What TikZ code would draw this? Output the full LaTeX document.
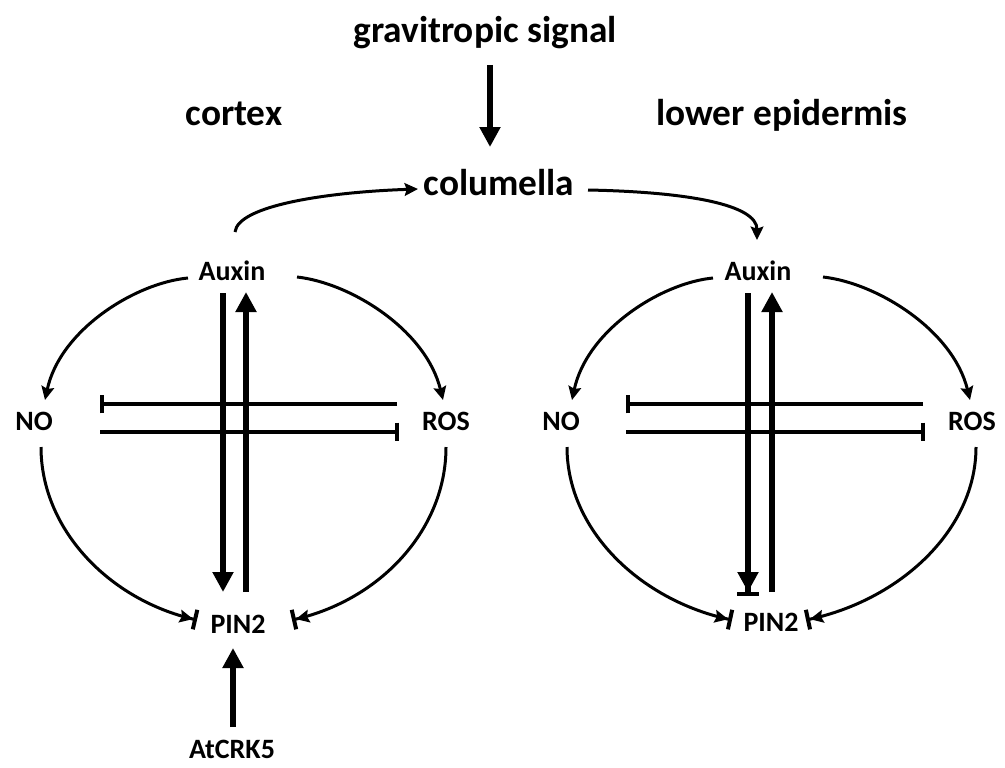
\documentclass[tikz,border=0pt]{standalone}
\usepackage{fontspec}
\setmainfont{Carlito}
\usetikzlibrary{arrows.meta}
\begin{document}
\begin{tikzpicture}[x=0.75pt,y=-0.75pt,
  big/.style={font=\fontsize{28}{32}\selectfont\bfseries, inner sep=0pt, anchor=base},
  lab/.style={font=\fontsize{21}{24}\selectfont\bfseries, inner sep=0pt, anchor=base},
  thinarr/.style={line width=2.25pt, -{Stealth[length=10pt,width=9.5pt,inset=1.5pt]}},
  thinbar/.style={line width=2.25pt, -{Stealth[length=10pt,width=9.5pt,inset=1.5pt,sep=0pt]Bar[width=15pt,line width=3pt]}},
  thickarr/.style={line width=4.5pt, -{Triangle[length=15pt,width=15pt]}},
  thickbar/.style={line width=4.5pt, -{Triangle[length=15pt,width=15pt,sep=0pt]Bar[width=16pt,line width=3pt]}},
  thickline/.style={line width=4.5pt},
  crossbar/.style={line width=3pt, -{Bar[width=14pt,line width=3pt]}}
]
\path[use as bounding box, fill=white] (0,0) rectangle (1005,767);

% titles
\node[big] (grav) at (485,43) {gravitropic signal};
\node[big] (cortex) at (234,125) {cortex};
\node[big] (lower) at (782,125) {lower epidermis};
\node[big] (col) at (499,195) {columella};

% labels
\node[lab] (auxL) at (232,280) {Auxin};
\node[lab] (auxR) at (758,280) {Auxin};
\node[lab] (noL) at (34,430) {NO};
\node[lab] (rosL) at (446,430) {ROS};
\node[lab] (noR) at (561,430) {NO};
\node[lab] (rosR) at (972,430) {ROS};
\node[lab] (pinL) at (238,633) {PIN2};
\node[lab] (pinR) at (771,631) {PIN2};
\node[lab] (crk) at (232,758) {AtCRK5};

% endpoint coordinates
\coordinate (g1) at (490,65);   \coordinate (g2) at (490,147);
\coordinate (cl1) at (235,232); \coordinate (cl2) at (418,189);
\coordinate (cr1) at (588,190); \coordinate (cr2) at (757,240);

% left diagram
\coordinate (aLn) at (188,278); \coordinate (nLa) at (45,400);
\coordinate (aLr) at (297,277); \coordinate (rLa) at (443,400);
\coordinate (nLp) at (41,447);  \coordinate (pLn) at (197,620);
\coordinate (rLp) at (446,447); \coordinate (pLr) at (292,620);
\coordinate (dL1) at (223,293); \coordinate (dL2) at (223,592);
\coordinate (uL1) at (246,592); \coordinate (uL2) at (246,292);
\coordinate (hL1a) at (397,404); \coordinate (hL1b) at (100,404);
\coordinate (hL2a) at (100,432); \coordinate (hL2b) at (399,432);
\coordinate (k1) at (233,727); \coordinate (k2) at (233,648);

% right diagram
\coordinate (aRn) at (713,278); \coordinate (nRa) at (572,400);
\coordinate (aRr) at (823,277); \coordinate (rRa) at (970,400);
\coordinate (nRp) at (567,447); \coordinate (pRn) at (732,620);
\coordinate (rRp) at (976,447); \coordinate (pRr) at (806,620);
\coordinate (dR1) at (748,293); \coordinate (dR2) at (748,596);
\coordinate (uR1) at (772,592); \coordinate (uR2) at (772,292);
\coordinate (hR1a) at (923,404); \coordinate (hR1b) at (626,404);
\coordinate (hR2a) at (626,432); \coordinate (hR2b) at (925,432);

% top arrows
\draw[thickarr] (g1) -- (g2);
\draw[thinarr] (cl1) .. controls (238,205) and (330,192) .. (cl2);
\draw[thinarr] (cr1) .. controls (690,192) and (757,205) .. (cr2);

% left arcs
\draw[thinarr] (aLn) .. controls (135,283) and (60,330) .. (nLa);
\draw[thinarr] (aLr) .. controls (351,283) and (426,330) .. (rLa);
\draw[thinbar] (nLp) .. controls (41,530) and (110,600) .. (pLn);
\draw[thinbar] (rLp) .. controls (446,530) and (380,600) .. (pLr);
\draw[thickarr] (dL1) -- (dL2);
\draw[thickarr] (uL1) -- (uL2);
\draw[crossbar] (hL1a) -- (hL1b);
\draw[crossbar] (hL2a) -- (hL2b);
\draw[thickarr] (k1) -- (k2);

% right arcs
\draw[thinarr] (aRn) .. controls (661,283) and (587,330) .. (nRa);
\draw[thinarr] (aRr) .. controls (877,283) and (953,330) .. (rRa);
\draw[thinbar] (nRp) .. controls (567,530) and (640,600) .. (pRn);
\draw[thinbar] (rRp) .. controls (976,530) and (900,600) .. (pRr);
\draw[thickbar] (dR1) -- (dR2);
\draw[thickarr] (uR1) -- (uR2);
\draw[crossbar] (hR1a) -- (hR1b);
\draw[crossbar] (hR2a) -- (hR2b);
\end{tikzpicture}
\end{document}
